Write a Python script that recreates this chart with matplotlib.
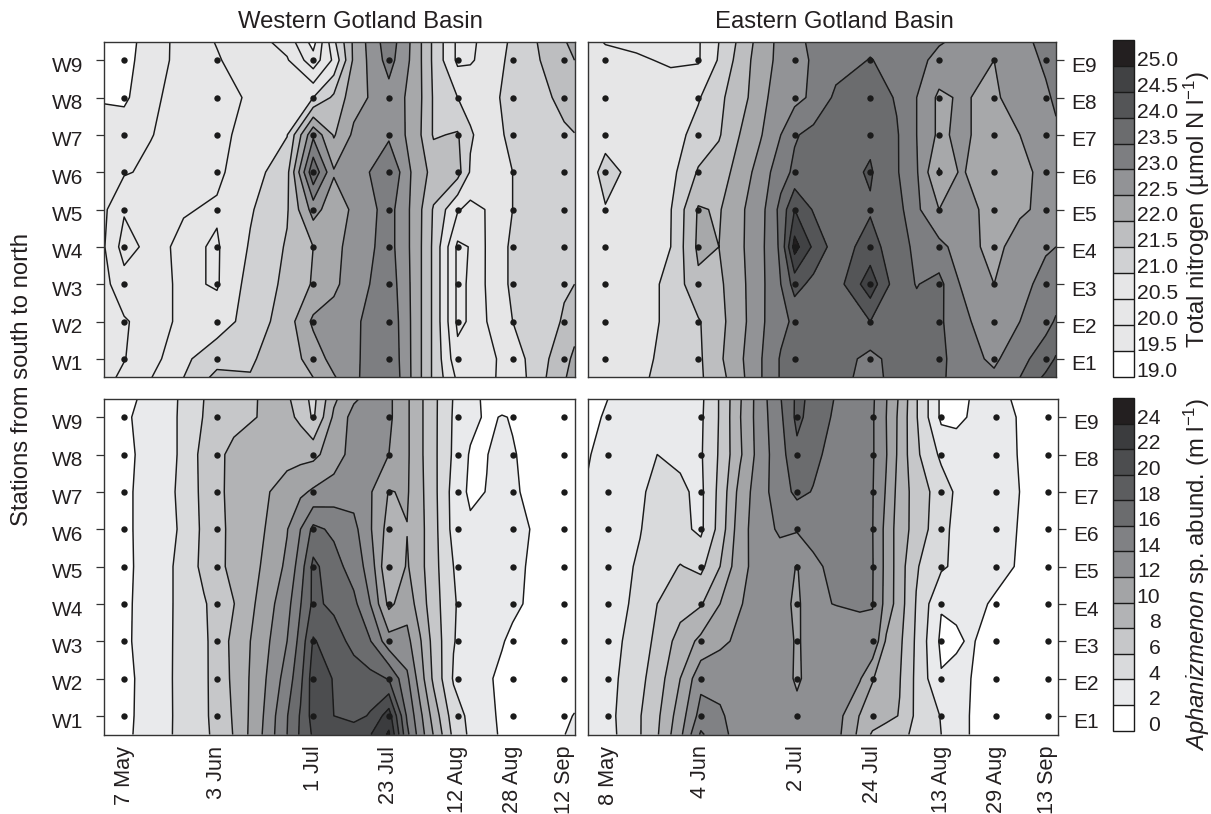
import matplotlib
matplotlib.use('Agg')
import matplotlib.pyplot as plt
from matplotlib.transforms import ScaledTranslation

plt.rcParams['font.family'] = ['Liberation Sans', 'DejaVu Sans']
plt.rcParams['mathtext.fontset'] = 'custom'
plt.rcParams['mathtext.rm'] = 'Liberation Sans'
plt.rcParams['mathtext.it'] = 'Liberation Sans:italic'

W, H = 1211, 814

# sampling stations and dates
west_days = [127, 154, 182, 204, 224, 240, 255]
east_days = [128, 155, 183, 205, 225, 241, 256]
west_dates = ['7 May', '3 Jun', '1 Jul', '23 Jul', '12 Aug', '28 Aug', '12 Sep']
east_dates = ['8 May', '4 Jun', '2 Jul', '24 Jul', '13 Aug', '29 Aug', '13 Sep']
stations = [1, 2, 3, 4, 5, 6, 7, 8, 9]
west_names = ['W1', 'W2', 'W3', 'W4', 'W5', 'W6', 'W7', 'W8', 'W9']
east_names = ['E1', 'E2', 'E3', 'E4', 'E5', 'E6', 'E7', 'E8', 'E9']

# rows of every field, top to bottom
grid_y = [9.5, 9, 8, 7, 6, 5, 4, 3, 2, 1, 0.5]

# total nitrogen, western basin
tn_west_x = [121, 127, 134.7, 144.3, 154, 163.7, 174.4, 182, 188, 193.8, 204, 211.7, 217, 224, 227.7, 232.5, 240, 248, 255, 258]
tn_west = [
    [19.2, 19.3, 19.72, 20.2, 20.53, 20.75, 20.3, 19.3, 20.9, 22.1, 23.3, 22.3, 21.4, 20.4, 20.45, 20.58, 21.1, 21.55, 21.95, 22.2],
    [19.2, 19.3, 19.8, 20.15, 20.45, 20.8, 20.55, 19.7, 20.6, 22.1, 23.2, 22.3, 21.4, 20.4, 20.45, 20.65, 21.15, 21.5, 21.85, 22.0],
    [19.45, 19.4, 19.9, 20.2, 20.35, 20.55, 20.8, 21.0, 21.6, 22.3, 22.8, 22.3, 21.45, 21.0, 20.85, 20.85, 21.15, 21.35, 21.65, 21.85],
    [19.75, 19.8, 19.98, 20.2, 20.38, 20.65, 20.98, 22.9, 21.95, 22.6, 22.9, 22.25, 21.45, 21.55, 21.05, 20.8, 21.1, 21.3, 21.42, 21.48],
    [19.8, 19.95, 20.1, 20.25, 20.42, 20.75, 21.35, 23.9, 22.55, 22.6, 23.5, 22.3, 21.85, 21.7, 20.95, 20.75, 21.0, 21.2, 21.3, 21.35],
    [19.9, 20.45, 20.25, 20.47, 20.55, 20.95, 21.45, 22.7, 22.2, 22.6, 23.2, 22.3, 21.45, 20.55, 20.35, 20.52, 21.0, 21.2, 21.3, 21.35],
    [19.95, 20.7, 20.35, 20.6, 20.45, 21.05, 21.55, 22.0, 22.35, 22.7, 23.2, 22.3, 21.4, 19.9, 20.02, 20.55, 21.1, 21.25, 21.35, 21.4],
    [19.85, 20.3, 20.3, 20.6, 20.45, 21.2, 21.6, 22.05, 22.4, 22.75, 23.3, 22.3, 21.4, 19.9, 20.05, 20.55, 21.1, 21.25, 21.45, 21.5],
    [19.75, 19.95, 20.2, 20.65, 20.75, 21.2, 21.75, 22.6, 22.7, 22.9, 23.4, 22.3, 21.4, 19.9, 20.05, 20.5, 21.0, 21.25, 21.55, 21.8],
    [19.7, 19.98, 20.3, 20.9, 21.3, 21.45, 21.75, 22.2, 22.7, 22.9, 23.45, 22.3, 21.4, 20.15, 20.2, 20.35, 20.75, 21.3, 21.85, 22.1],
    [19.85, 20.1, 20.48, 21.0, 21.65, 21.52, 21.85, 22.0, 22.45, 22.9, 23.5, 22.3, 21.4, 20.4, 20.35, 20.42, 20.65, 21.35, 21.95, 22.2],
]

# total nitrogen, eastern basin
tn_east_x = [122.8, 128, 137, 147, 155, 161, 167, 173, 179, 183, 188.5, 195, 205, 212.7, 218.5, 225, 231, 241, 248.5, 256, 259]
tn_east = [
    [20.6, 20.48, 20.42, 20.4, 20.45, 21.0, 21.6, 22.2, 22.65, 22.8, 23.15, 23.25, 23.4, 23.3, 23.2, 23.05, 22.9, 22.55, 22.9, 23.1, 23.25],
    [20.65, 20.6, 20.55, 20.45, 20.45, 21.05, 21.7, 22.25, 22.65, 22.85, 23.05, 23.3, 23.52, 23.35, 23.15, 22.85, 22.75, 22.5, 22.85, 23.05, 23.2],
    [20.7, 20.7, 20.65, 20.7, 20.95, 21.4, 21.75, 22.35, 22.75, 22.85, 23.1, 23.6, 23.8, 23.45, 23.0, 22.4, 22.55, 22.4, 22.8, 22.95, 23.05],
    [20.7, 20.7, 20.7, 20.75, 21.2, 21.45, 22.0, 22.45, 23.0, 23.45, 23.65, 23.75, 23.9, 23.55, 23.0, 22.4, 22.6, 22.3, 22.5, 22.9, 22.95],
    [20.6, 21.3, 20.7, 20.85, 21.55, 21.75, 22.2, 22.7, 23.3, 23.6, 23.7, 23.8, 24.05, 23.55, 23.05, 21.95, 22.55, 22.25, 22.35, 22.65, 22.8],
    [20.75, 20.95, 20.75, 20.98, 22.05, 21.95, 22.4, 22.8, 23.65, 24.5, 23.95, 23.8, 23.95, 23.7, 23.1, 22.5, 22.75, 22.3, 22.4, 22.65, 22.75],
    [20.7, 20.6, 20.7, 21.0, 22.1, 22.0, 22.4, 22.85, 23.6, 25.2, 24.4, 23.75, 24.2, 23.7, 23.4, 23.15, 22.8, 22.3, 22.8, 22.95, 23.0],
    [20.7, 20.6, 20.8, 21.1, 21.9, 21.9, 22.35, 22.85, 23.5, 24.2, 23.85, 23.75, 24.8, 23.7, 23.48, 23.65, 23.0, 22.5, 22.85, 23.15, 23.25],
    [20.7, 20.6, 20.8, 21.1, 21.45, 21.85, 22.3, 22.9, 23.35, 23.6, 23.75, 23.85, 24.0, 23.75, 23.65, 23.6, 23.15, 22.7, 23.0, 23.35, 23.55],
    [20.65, 20.7, 20.85, 21.15, 21.4, 21.9, 22.4, 22.95, 23.55, 23.7, 23.8, 23.75, 23.35, 23.7, 23.75, 23.65, 23.25, 22.9, 23.35, 23.75, 24.05],
    [20.65, 20.7, 20.85, 21.25, 21.4, 21.8, 22.35, 22.95, 23.55, 23.7, 23.8, 23.7, 23.3, 23.7, 23.75, 23.6, 23.3, 23.1, 23.5, 24.1, 24.4],
]

# Aphanizomenon abundance, western basin
ap_west_x = [121, 127, 134.7, 142.4, 150.2, 158.9, 166.6, 174.4, 178.3, 182, 188, 193.8, 198.6, 204, 209.3, 213.1, 217, 222.8, 227.7, 232.5, 236.9, 240, 255, 258]
ap_west = [
    [1.2, 1.5, 2.5, 3.95, 6, 7.1, 8.1, 8.3, 7, 5.4, 9.6, 11.7, 12.6, 12.4, 10.3, 8.4, 6.5, 3.9, 2.6, 1.6, 1.2, 1.0, 0.8, 0.8],
    [1.2, 1.6, 3.0, 4, 6.1, 7.3, 8.1, 8.5, 7.6, 5.7, 10.4, 12.7, 13, 12.4, 10.3, 8.4, 6.5, 3.8, 2.6, 1.7, 2.1, 1.9, 0.8, 0.8],
    [1.2, 1.5, 2.7, 4, 6.6, 8.6, 9, 9.3, 9.4, 9.5, 11, 12.8, 12.9, 12, 10.3, 8.4, 6.5, 3.7, 1.8, 1.95, 2.6, 2.1, 0.8, 0.8],
    [1.3, 1.6, 2.8, 4.1, 6.5, 8.7, 9.5, 10.9, 11.6, 12.3, 12.9, 13.2, 12.2, 9.9, 10.2, 8.5, 6.6, 3.3, 1.6, 2.05, 2.8, 2.2, 0.8, 0.8],
    [1.3, 1.6, 2.8, 4, 6.4, 8.6, 9.6, 11.9, 14, 16.5, 15.6, 14.6, 12.2, 9.2, 9.95, 8.6, 6.7, 3.4, 2.4, 2.3, 2.8, 2.6, 0.8, 0.8],
    [1.3, 1.5, 2.9, 4.2, 6.5, 8.6, 10, 12.4, 15, 18.5, 16.8, 15.1, 13.2, 7.95, 10.2, 8.6, 6.7, 4, 2.9, 2.6, 2.5, 2.4, 0.8, 0.8],
    [1.3, 1.6, 2.9, 4.2, 5.8, 7.95, 10.5, 13.3, 15.9, 18.4, 17.6, 16.5, 14, 9.5, 11.2, 9, 6.9, 4.2, 3, 2.7, 2.5, 2.3, 0.8, 0.8],
    [1.3, 1.6, 3, 4.2, 5.6, 8.5, 10.9, 14, 16.7, 20.2, 18.9, 17.4, 16.1, 12.8, 12.6, 10.2, 7.3, 4.1, 3, 2.5, 2.1, 1.7, 0.8, 0.8],
    [1.3, 1.6, 2.6, 4.3, 5.6, 8.4, 11.2, 14.9, 17.5, 21, 19.9, 19, 18.6, 17.9, 14.4, 11, 7.6, 3.8, 2.9, 2.2, 1.7, 1.4, 0.8, 0.8],
    [1.3, 1.7, 2.5, 4.3, 5.6, 8.2, 11.5, 15.9, 18.2, 20.8, 20, 19.3, 20.2, 23, 15.7, 12.5, 9.2, 5, 3.5, 2.3, 1.8, 1.4, 1.6, 2.1],
    [1.3, 1.7, 2.6, 4.3, 5.5, 8.1, 11.7, 16, 18.3, 20.3, 20.8, 21.3, 21.9, 24.3, 16.5, 13, 9.9, 5.5, 3.6, 2.5, 1.8, 1.5, 1.9, 3],
]

# Aphanizomenon abundance, eastern basin
ap_east_x = [122, 128, 137.3, 142.3, 149, 155, 160.6, 166.4, 172.2, 178, 183, 187.7, 194.5, 201.3, 205, 209, 212.9, 217.7, 225, 229.4, 233.2, 240.8, 247.8, 255.8, 259]
ap_east = [
    [1.4, 2, 2.6, 2.8, 3.1, 3.6, 6.2, 9.8, 13, 15.8, 18.4, 17.6, 15.8, 14.9, 14.3, 12.1, 9.7, 6.2, 1.6, 1.5, 2.0, 2.5, 1.7, 0.8, 0.8],
    [1.6, 2.2, 2.9, 3.1, 3.4, 3.7, 6.2, 9.9, 13, 15.5, 18.5, 17.2, 15.6, 14.6, 14.2, 12, 9.5, 6.2, 1.6, 1.6, 2.1, 2.6, 1.9, 0.8, 0.8],
    [1.9, 2.5, 3.3, 4.0, 3.7, 3.8, 6.3, 9.7, 12.9, 15.2, 17.5, 16.5, 15.2, 14.5, 14.2, 12.1, 9.4, 6.4, 3.6, 2.9, 2.7, 2.9, 1.9, 0.8, 0.8],
    [2.1, 2.6, 3.7, 4.6, 4.3, 3.6, 6.6, 10.7, 13.2, 15, 16.5, 15.9, 15, 14.4, 14.1, 11.8, 9.1, 7.2, 5, 3.7, 3.2, 2.8, 2, 0.8, 0.8],
    [2, 2.8, 3.9, 5, 4.5, 3.6, 6.8, 11.2, 13.1, 14.3, 14.2, 14.8, 14.9, 14.3, 14.05, 11.4, 8.9, 7.3, 4.6, 3.5, 3.2, 2.8, 1.9, 0.8, 0.8],
    [2.2, 2.9, 4.3, 5, 6.1, 5.5, 8, 11.4, 12.8, 13, 11.9, 13.5, 14.7, 14.4, 14.1, 11.4, 8.9, 6.2, 4.3, 3.6, 3.2, 2.7, 1.8, 0.8, 0.8],
    [2.4, 3.1, 4.5, 6, 7.2, 7.8, 10, 11.9, 12.7, 12.9, 11.5, 13.8, 14.05, 14.2, 14.05, 11.3, 8.9, 5.9, 2.15, 2.4, 2.7, 1.7, 1, 0.8, 0.8],
    [2.5, 3.2, 5, 6.5, 8.8, 10.5, 11.6, 12.4, 12.8, 12.9, 11.8, 12.7, 13, 13.3, 13.7, 9.7, 8.4, 5.7, 1.6, 1.7, 2.2, 1.3, 1, 0.8, 0.8],
    [2.5, 3.3, 5.5, 7, 10, 13.4, 13.3, 13, 13, 13, 11.7, 12.8, 12.8, 12.2, 10.1, 9, 8.1, 5.6, 2.15, 2.6, 2.05, 1.2, 0.9, 0.8, 0.8],
    [2.5, 3.4, 5.9, 7.6, 11, 14.8, 14.3, 13, 13, 13, 12.6, 13, 12.8, 9.9, 9.2, 8.6, 7.9, 5.6, 3.9, 3, 2, 1.2, 0.9, 0.8, 0.8],
    [2.5, 3.3, 5.9, 7.8, 11.5, 16.3, 14.6, 13.2, 13, 12.9, 12.8, 12.8, 12.6, 9.5, 7.7, 7, 6.5, 5.6, 4, 3, 2, 1.2, 0.9, 0.8, 0.8],
]

# contour levels and greys
tn_levels = [19, 19.5, 20, 20.5, 21, 21.5, 22, 22.5, 23, 23.5, 24, 24.5, 25, 25.5]
tn_colors = ['#ffffff', '#e7e7e8', '#e7e7e8', '#e6e6e7', '#d0d1d3', '#bdbec0', '#a7a8aa', '#929396',
             '#7d7e81', '#6b6c6e', '#545557', '#414244', '#231f20']
ap_levels = [0, 2, 4, 6, 8, 10, 12, 14, 16, 18, 20, 22, 24, 26]
ap_colors = ['#ffffff', '#e9eaec', '#d9dadc', '#c6c7c9', '#b2b3b5', '#a3a4a6', '#8e8f92',
             '#808184', '#6b6c6e', '#5c5d5f', '#4c4d4f', '#3b3c3e', '#231f20']
tn_labels = ['19.0', '19.5', '20.0', '20.5', '21.0', '21.5', '22.0', '22.5', '23.0', '23.5', '24.0', '24.5', '25.0']
ap_labels = ['0', '2', '4', '6', '8', '10', '12', '14', '16', '18', '20', '22', '24']

FS_TICK = 15
FS_DATE = 15.6
FS_CB = 15.2
FS_TITLE = 17.2
INK = '#231f20'
EDGE = '#333333'


def px_axes(x0, y0, x1, y1):
    return fig.add_axes([x0 / W, 1 - y1 / H, (x1 - x0) / W, (y1 - y0) / H])


def draw_panel(box, gx, field, levels, colors, days, xlim):
    ax = px_axes(*box)
    cf = ax.contourf(gx, grid_y, field, levels=levels, colors=colors)
    ax.contour(gx, grid_y, field, levels=levels, colors='#1a1a1a', linewidths=1.05)
    for d in days:
        ax.plot([d] * len(stations), stations, 'o', color='#1a1a1a', ms=4.6, mew=0, clip_on=False)
    ax.set_xlim(*xlim)
    ax.set_ylim(0.5, 9.5)
    ax.set_yticks(stations)
    ax.set_xticks([])
    for s in ax.spines.values():
        s.set_color(EDGE)
        s.set_linewidth(1.0)
    return ax, cf


def side_ticks(ax, names, side):
    if side == 'right':
        ax.yaxis.tick_right()
    ax.set_yticklabels(names, fontsize=FS_TICK, color=INK)
    ax.tick_params(axis='y', length=5.8, width=0.9, pad=9 if side == 'left' else 5, color=EDGE)
    # labels sit a little below their ticks
    shift = ScaledTranslation(0, -3 / 72, fig.dpi_scale_trans)
    for lab in ax.get_yticklabels():
        lab.set_transform(lab.get_transform() + shift)


def date_ticks(ax, days, dates):
    ax.set_xticks(days)
    ax.set_xticklabels(dates, rotation=90, fontsize=FS_DATE, color=INK)
    ax.tick_params(axis='x', length=0, pad=8)


def draw_colorbar(box, cf, labels, levels, right_align):
    cax = px_axes(*box)
    cb = fig.colorbar(cf, cax=cax, spacing='uniform', drawedges=True)
    cb.dividers.set_color('#1a1a1a')
    cb.dividers.set_linewidth(1.0)
    cb.outline.set_edgecolor('#1a1a1a')
    cb.outline.set_linewidth(1.0)
    cb.set_ticks([])
    for v, lab in zip(levels, labels):
        if right_align:
            cax.annotate(lab, xy=(1, v), xycoords=('axes fraction', 'data'), xytext=(19, 3.8), textcoords='offset points',
                         ha='right', va='center', fontsize=FS_CB, color=INK)
        else:
            cax.annotate(lab, xy=(1, v), xycoords=('axes fraction', 'data'), xytext=(2, 3.8), textcoords='offset points',
                         ha='left', va='center', fontsize=FS_CB, color=INK)


fig = plt.figure(figsize=(W / 100, H / 100), dpi=100)

ax1, cf1 = draw_panel((103.5, 41.5, 574.5, 377.5), tn_west_x, tn_west, tn_levels, tn_colors, west_days, (121, 258))
ax2, cf2 = draw_panel((587.5, 41.5, 1056, 377.5), tn_east_x, tn_east, tn_levels, tn_colors, east_days, (122.8, 259))
ax3, cf3 = draw_panel((103.5, 398.5, 574.5, 734.5), ap_west_x, ap_west, ap_levels, ap_colors, west_days, (121, 258))
ax4, cf4 = draw_panel((587.5, 398.5, 1058, 734.5), ap_east_x, ap_east, ap_levels, ap_colors, east_days, (122, 259))

side_ticks(ax1, west_names, 'left')
side_ticks(ax3, west_names, 'left')
side_ticks(ax2, east_names, 'right')
side_ticks(ax4, east_names, 'right')
ax1.xaxis.set_visible(False)
ax2.xaxis.set_visible(False)
ax2.tick_params(axis='y', left=False)
ax4.tick_params(axis='y', left=False)
date_ticks(ax3, west_days, west_dates)
date_ticks(ax4, east_days, east_dates)

draw_colorbar((1112.5, 40, 1134, 376.5), cf1, tn_labels, tn_levels, False)
draw_colorbar((1112.5, 398, 1134, 730.5), cf3, ap_labels, ap_levels, True)

fig.text(360 / W, 1 - 22 / H, 'Western Gotland Basin', fontsize=FS_TITLE, color=INK, ha='center', va='center')
fig.text(834 / W, 1 - 22 / H, 'Eastern Gotland Basin', fontsize=FS_TITLE, color=INK, ha='center', va='center')
fig.text(22 / W, 1 - 379 / H, 'Stations from south to north', fontsize=FS_TITLE, color=INK, rotation=90, ha='center', va='center')
fig.text(1197 / W, 1 - 209 / H, 'Total nitrogen (µmol N l$^{-1}$)', fontsize=FS_TITLE, color=INK, rotation=90, ha='center', va='center')
fig.text(1197 / W, 1 - 574 / H, r'$\mathit{Aphanizmenon}$ sp. abund. (m l$^{-1}$)', fontsize=FS_TITLE, color=INK, rotation=90, ha='center', va='center')

fig.savefig('out.png', dpi=100)
